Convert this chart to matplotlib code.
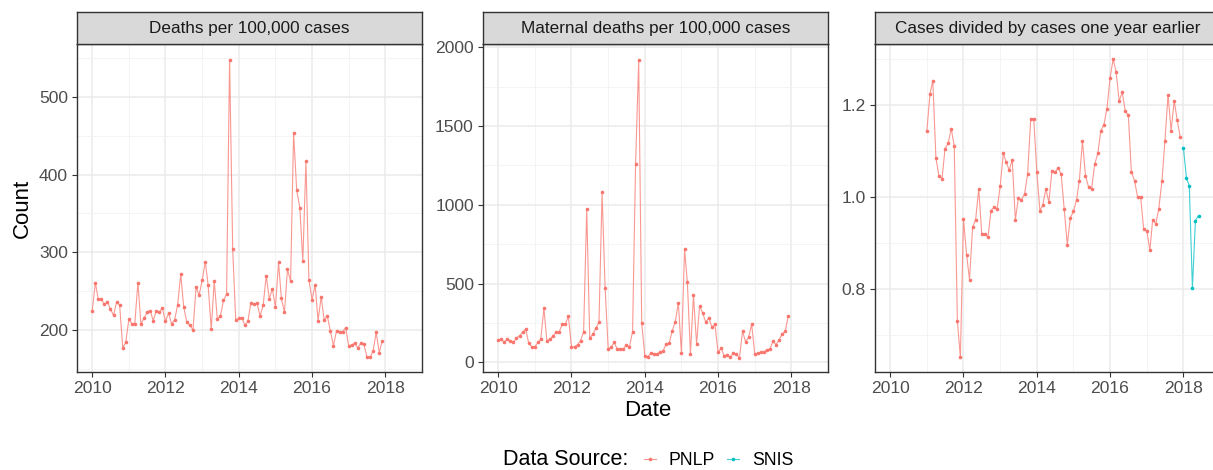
import matplotlib

matplotlib.use("Agg")
import matplotlib.pyplot as plt
import matplotlib.dates as mdates
import numpy as np
import pandas as pd

plt.rcParams["font.family"] = ["Liberation Sans", "DejaVu Sans"]

# monthly series, PNLP Jan 2010 - Dec 2017
deaths_pnlp = [
    225, 261, 240, 240, 233, 236, 227, 219, 236, 232, 177, 184,
    214, 208, 208, 261, 208, 215, 223, 225, 212, 225, 223, 228,
    211, 222, 208, 213, 232, 272, 229, 210, 206, 200, 255, 245,
    264, 288, 258, 201, 263, 214, 218, 238, 246, 548, 304, 213,
    215, 216, 206, 211, 235, 233, 235, 218, 232, 270, 240, 253,
    229, 287, 241, 223, 278, 263, 454, 380, 357, 289, 417, 264,
    239, 258, 212, 243, 213, 218, 199, 180, 199, 198, 198, 203,
    179, 181, 183, 177, 183, 182, 165, 165, 173, 197, 171, 186,
]
maternal_pnlp = [
    141, 147, 126, 147, 137, 126, 154, 168, 189, 211, 120, 99,
    99, 126, 147, 343, 133, 147, 168, 189, 194, 242, 242, 291,
    99, 99, 112, 137, 194, 973, 154, 179, 217, 253, 1078, 474,
    84, 95, 126, 84, 84, 84, 112, 99, 194, 1259, 1920, 248,
    42, 36, 57, 53, 53, 63, 69, 116, 120, 200, 257, 379,
    57, 720, 509, 53, 427, 116, 358, 312, 253, 284, 221, 242,
    63, 88, 42, 46, 32, 57, 53, 27, 196, 131, 158, 242,
    53, 57, 63, 63, 80, 84, 133, 112, 141, 179, 196, 295,
]
# ratio to one year earlier, PNLP Jan 2011 - Dec 2017
ratio_pnlp = [
    1.143, 1.224, 1.252, 1.085, 1.046, 1.039, 1.104, 1.116, 1.148, 1.110, 0.730, 0.651,
    0.952, 0.874, 0.820, 0.934, 0.950, 1.017, 0.919, 0.919, 0.912, 0.970, 0.977, 0.973,
    1.023, 1.095, 1.075, 1.058, 1.080, 0.950, 0.997, 0.993, 1.006, 1.049, 1.168, 1.170,
    1.054, 0.970, 0.981, 1.017, 0.988, 1.057, 1.053, 1.063, 1.049, 0.973, 0.896, 0.954,
    0.968, 0.993, 1.035, 1.121, 1.046, 1.021, 1.017, 1.071, 1.094, 1.143, 1.157, 1.191,
    1.258, 1.299, 1.272, 1.208, 1.227, 1.186, 1.178, 1.053, 1.035, 1.000, 0.999, 0.930,
    0.926, 0.884, 0.950, 0.941, 0.974, 1.034, 1.121, 1.222, 1.143, 1.209, 1.166, 1.129,
]
# SNIS Jan 2018 - Jun 2018
ratio_snis = [1.107, 1.040, 1.024, 0.801, 0.948, 0.959]

dates_2010 = pd.date_range("2010-01-01", periods=len(deaths_pnlp), freq="MS")
dates_2011 = pd.date_range("2011-01-01", periods=len(ratio_pnlp), freq="MS")
dates_snis = pd.date_range("2018-01-01", periods=len(ratio_snis), freq="MS")

titles = [
    "Deaths per 100,000 cases",
    "Maternal deaths per 100,000 cases",
    "Cases divided by cases one year earlier",
]
RED = "#F8766D"
TEAL = "#00BFC4"

W, H = 1213, 470
fig = plt.figure(figsize=(W / 100, H / 100), dpi=100)


def px_axes(x0, y0, w, h):
    return fig.add_axes([x0 / W, 1 - (y0 + h) / H, w / W, h / H])


lefts = [77, 483, 875]
panel_w, top, bottom = 345, 44, 372
xlim = (pd.Timestamp("2009-08-02"), pd.Timestamp("2019-01-01"))

panels = [
    [(dates_2010, deaths_pnlp, RED)],
    [(dates_2010, maternal_pnlp, RED)],
    [(dates_2011, ratio_pnlp, RED), (dates_snis, ratio_snis, TEAL)],
]
ylims = [(146, 568), (-62, 2021), (0.619, 1.332)]
yticks = [[200, 300, 400, 500], [0, 500, 1000, 1500, 2000], [0.8, 1.0, 1.2]]
yminor = [[150, 250, 350, 450, 550], [250, 750, 1250, 1750], [0.7, 0.9, 1.1, 1.3]]
yfmt = ["{:.0f}", "{:.0f}", "{:.1f}"]

for i, left in enumerate(lefts):
    ax = px_axes(left, top, panel_w, bottom - top)
    for dates, vals, col in panels[i]:
        ax.plot(dates, vals, color=col, lw=0.8, alpha=0.75, zorder=3)
        ax.plot(dates, vals, ls="none", marker="o", ms=2.6, color=col, mew=0, zorder=4)
    ax.set_xlim(xlim)
    ax.set_ylim(ylims[i])
    ax.xaxis.set_major_locator(mdates.YearLocator(2))
    ax.set_xticks([pd.Timestamp(f"{y}-01-01") for y in range(2011, 2020, 2)], minor=True)
    ax.xaxis.set_major_formatter(mdates.DateFormatter("%Y"))
    ax.set_yticks(yticks[i])
    ax.set_yticklabels([yfmt[i].format(v) for v in yticks[i]])
    ax.set_yticks(yminor[i], minor=True)
    ax.grid(True, which="major", color="#EBEBEB", lw=1.1, zorder=0)
    ax.grid(True, which="minor", color="#F2F2F2", lw=0.6, zorder=0)
    ax.set_axisbelow(True)
    ax.tick_params(which="major", length=3.6, width=0.8, color="#333333",
                   labelsize=12.6, labelcolor="#4D4D4D", pad=3)
    ax.tick_params(which="minor", length=0)
    for sp in ax.spines.values():
        sp.set_color("#333333")
        sp.set_linewidth(1.0)

    strip = px_axes(left, 12, panel_w, top - 12)
    strip.set_facecolor("#D9D9D9")
    strip.set_xticks([])
    strip.set_yticks([])
    for sp in strip.spines.values():
        sp.set_color("#333333")
        sp.set_linewidth(1.0)
    strip.text(0.5, 0.5, titles[i], ha="center", va="center", fontsize=12.3,
               color="#1A1A1A", transform=strip.transAxes)

fig.text(22 / W, 1 - 208 / H, "Count", rotation=90, ha="center", va="center", fontsize=16)
fig.text(648 / W, 1 - 411 / H, "Date", ha="center", va="center", fontsize=16)

# legend row at the bottom edge
base_y = 1 - 465 / H
fig.text(503 / W, base_y, "Data Source:", ha="left", va="baseline", fontsize=15.5)
for key_x, label, col in [(650, "PNLP", RED), (733, "SNIS", TEAL)]:
    kx = np.array([key_x - 6, key_x + 6]) / W
    ky = np.array([1 - 459 / H, 1 - 459 / H])
    fig.add_artist(plt.Line2D(kx, ky, color=col, lw=0.8, alpha=0.75))
    fig.add_artist(plt.Line2D([key_x / W], [ky[0]], color=col, marker="o", ms=2.6, mew=0))
    fig.text((key_x + 19) / W, base_y, label, ha="left", va="baseline", fontsize=12.7)

fig.savefig("out.png", dpi=100)
